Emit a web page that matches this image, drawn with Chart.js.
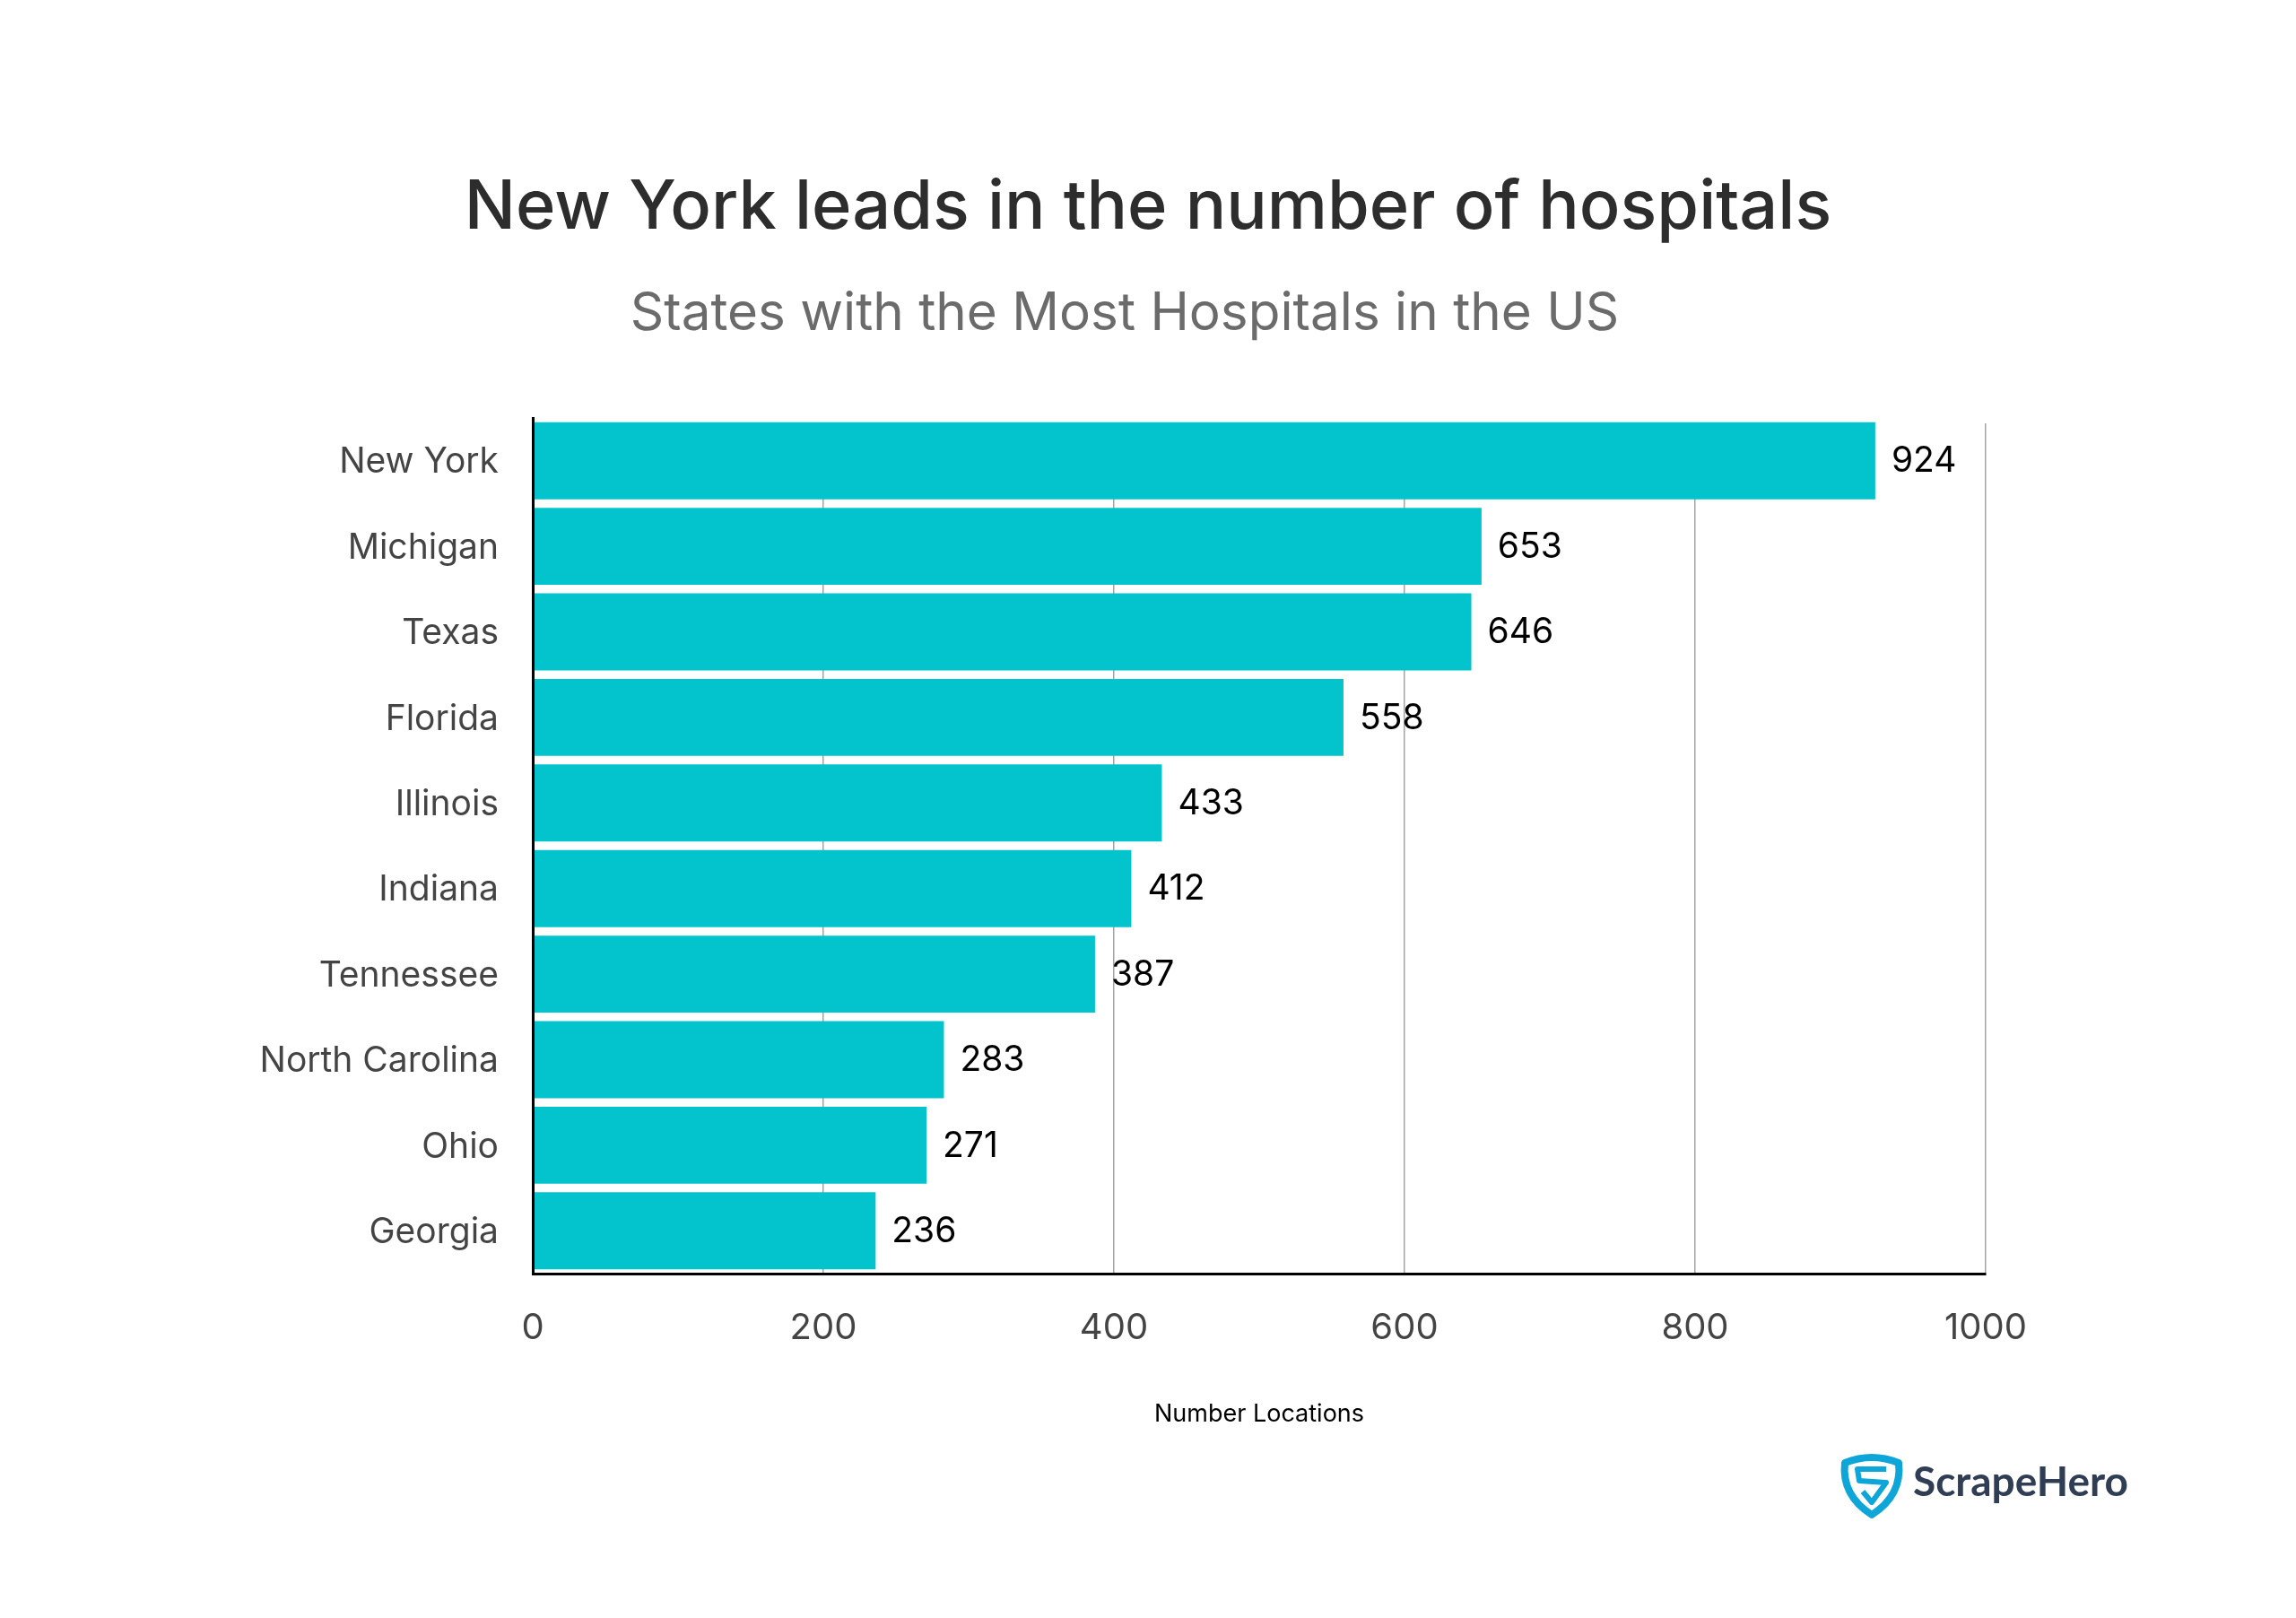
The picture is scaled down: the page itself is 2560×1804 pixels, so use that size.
<!DOCTYPE html>
<html>
<head>
<meta charset="utf-8">
<script src="https://cdn.jsdelivr.net/npm/chart.js@4"></script>
<style>
  html, body { margin: 0; padding: 0; background: #fff; }
  canvas { display: block; }
</style>
</head>
<body>
<canvas id="grafico" width="2560" height="1804"></canvas>
<script>
const estados = ['New York', 'Michigan', 'Texas', 'Florida', 'Illinois', 'Indiana', 'Tennessee', 'North Carolina', 'Ohio', 'Georgia'];
const hospitais = [924, 653, 646, 558, 433, 412, 387, 283, 271, 236];
const xTicks = [0, 200, 400, 600, 800, 1000];

const fonte = 'Inter';

// Valores na ponta das barras
const rotulosPlugin = {
    id: 'rotulos',
    beforeDatasetsDraw(chart) {
        // as linhas de grade comecam um pouco abaixo do topo do eixo
        const area = chart.chartArea;
        chart.ctx.save();
        chart.ctx.fillStyle = '#fff';
        chart.ctx.fillRect(area.left, area.top - 1, area.width + 2, 7);
        chart.ctx.restore();
    },
    afterDatasetsDraw(chart) {
        const ctx = chart.ctx;
        ctx.save();
        ctx.font = `400 39px ${fonte}`;
        ctx.fillStyle = '#000';
        ctx.textAlign = 'left';
        ctx.textBaseline = 'middle';
        chart.getDatasetMeta(0).data.forEach((bar, i) => {
            ctx.fillText(hospitais[i], bar.x + 18, bar.y + 1);
        });
        ctx.restore();
    }
};

// Titulo, subtitulo (nenhum dos dois centrado no plot) e logo
const extrasPlugin = {
    id: 'extras',
    afterDraw(chart) {
        const ctx = chart.ctx;
        ctx.save();
        ctx.textAlign = 'center';
        ctx.textBaseline = 'alphabetic';
        ctx.font = `500 75.7px ${fonte}`;
        ctx.fillStyle = '#2d2d2d';
        ctx.fillText('New York leads in the number of hospitals', 1280, 255);
        ctx.font = `400 58.4px ${fonte}`;
        ctx.fillStyle = '#6b6b6b';
        ctx.fillText('States with the Most Hospitals in the US', 1254, 368);

        // escudo
        ctx.translate(2053, 1621);
        ctx.strokeStyle = '#0ea5d8';
        ctx.lineJoin = 'round';
        ctx.lineWidth = 8;
        ctx.beginPath();
        ctx.moveTo(4, 10);
        ctx.quadraticCurveTo(34, -2, 64, 10);
        ctx.quadraticCurveTo(68, 46, 34, 68);
        ctx.quadraticCurveTo(0, 46, 4, 10);
        ctx.closePath();
        ctx.stroke();
        ctx.lineWidth = 6;
        ctx.beginPath();
        ctx.moveTo(50, 17);
        ctx.lineTo(18, 17);
        ctx.lineTo(20, 30);
        ctx.lineTo(50, 32);
        ctx.lineTo(34, 54);
        ctx.lineTo(24, 42);
        ctx.stroke();
        ctx.setTransform(1, 0, 0, 1, 0, 0);

        ctx.font = `700 46px Lato`;
        ctx.fillStyle = '#2f3e55';
        ctx.textAlign = 'left';
        ctx.fillText('ScrapeHero', 2133, 1668);
        ctx.restore();
    }
};

const grafico = new Chart(document.getElementById('grafico').getContext('2d'), {
    type: 'bar',
    data: {
        labels: estados,
        datasets: [{
            data: hospitais,
            backgroundColor: '#03c4cc',
            barPercentage: 0.9,
            categoryPercentage: 1
        }]
    },
    plugins: [rotulosPlugin, extrasPlugin],
    options: {
        indexAxis: 'y',
        responsive: false,
        animation: false,
        devicePixelRatio: 1,
        layout: { padding: { top: 466, left: 0, right: 346, bottom: 184 } },
        scales: {
            x: {
                min: 0,
                max: 1000,
                afterFit(scale) { scale.height = 200; },
                afterBuildTicks(scale) { scale.ticks = xTicks.map(v => ({ value: v })); },
                grid: { color: '#a3a3a3', lineWidth: 1.5, drawTicks: false },
                border: { color: '#000', width: 3, z: 1 },
                ticks: { color: '#444', font: { family: fonte, size: 40 }, padding: 37, maxRotation: 0, callback: v => String(v) },
                title: { display: true, text: 'Number Locations', color: '#000', font: { family: fonte, size: 27 }, padding: { top: 0, bottom: 27 } }
            },
            y: {
                afterFit(scale) { scale.width = 594; },
                grid: { display: false, drawTicks: false },
                border: { color: '#000', width: 3, z: 1 },
                ticks: { color: '#444', font: { family: fonte, size: 39 }, padding: 38, labelOffset: 2 }
            }
        },
        plugins: {
            legend: { display: false },
            tooltip: { enabled: false }
        }
    }
});
</script>
</body>
</html>
